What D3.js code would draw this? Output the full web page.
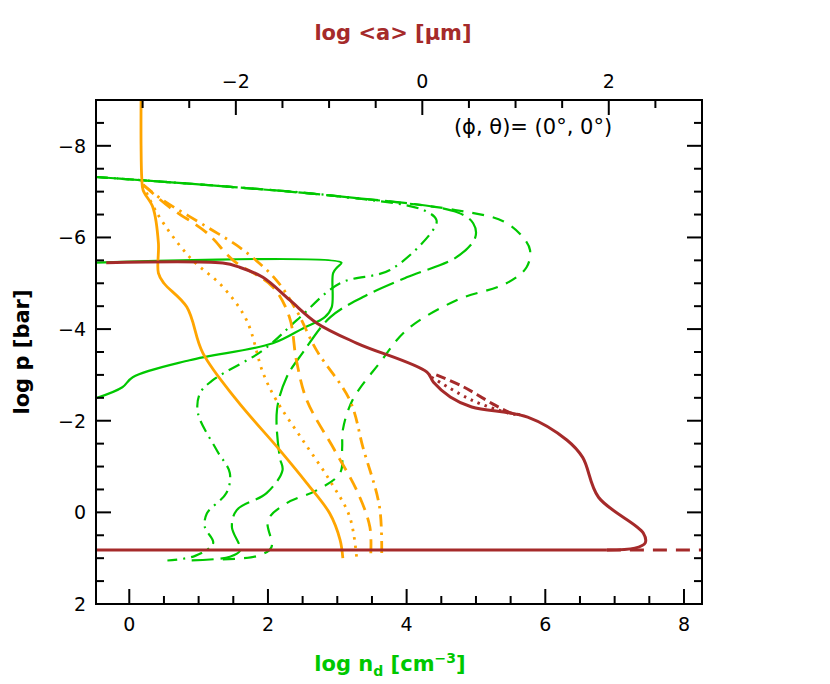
<!DOCTYPE html>
<html><head><meta charset="utf-8">
<script src="https://cdn.jsdelivr.net/npm/d3@7"></script>
<style>body{margin:0;background:#fff}text{font-family:"DejaVu Sans",sans-serif}</style>
</head><body><svg id="c" width="830" height="684"></svg>
<script>
const xTicksBottom=[0,2,4,6,8];
const xTicksTop=[-2,0,2];
const yTicks=[-8,-6,-4,-2,0,2];
// green: log n_d, [x, log p]
const greenSolid=[[-0.48,-5.45],[3.06,-5.45],[3.0,-5.35],[2.94,-5.22],[2.92,-4.48],[2.82,-4.26],[2.51,-4.02],[2.07,-3.69],[0.87,-3.32],[0.05,-2.95],[-0.1,-2.73],[-0.48,-2.49]];
const greenTop=[[-0.48,-7.32],[1.5,-7.1],[3.0,-6.9],[4.2,-6.65]];
const greenLongDash=[[-0.48,-7.32],[1.5,-7.1],[3.0,-6.9],[4.73,-6.55],[4.96,-6.31],[4.99,-6.0],[4.72,-5.57],[4.0,-5.13],[3.37,-4.7],[2.9,-4.26],[2.5,-3.48],[2.27,-2.95],[2.13,-2.23],[2.17,-1.2],[2.21,-0.92],[1.98,-0.42],[1.55,-0.05],[1.48,0.32],[1.6,0.83],[1.45,0.97],[0.9,1.05]];
const greenShortDash=[[-0.48,-7.32],[1.5,-7.1],[3.0,-6.9],[4.7,-6.6],[5.4,-6.35],[5.68,-6.0],[5.78,-5.72],[5.73,-5.35],[5.44,-5.0],[4.72,-4.63],[4.0,-3.98],[3.61,-3.26],[3.22,-2.45],[3.08,-1.8],[3.07,-1.4],[3.04,-0.86],[2.7,-0.48],[2.27,-0.2],[2.0,0.17],[2.05,0.76],[1.85,0.95],[1.3,1.03]];
const greenDashDot=[[-0.48,-7.32],[1.5,-7.1],[3.0,-6.9],[4.24,-6.6],[4.43,-6.38],[4.38,-6.16],[3.76,-5.29],[3.04,-5.0],[2.42,-4.2],[1.93,-3.54],[1.2,-2.88],[1.02,-2.6],[0.99,-2.17],[1.26,-1.36],[1.45,-0.86],[1.4,-0.42],[1.12,0.02],[1.09,0.32],[1.21,0.67],[0.95,0.95],[0.55,1.05]];
// orange: log n_d axis, [x, log p]
const orangeSolid=[[0.17,-9.0],[0.17,-8.0],[0.18,-7.3],[0.2,-7.03],[0.34,-6.66],[0.42,-5.88],[0.42,-5.22],[0.5,-5.0],[0.83,-4.48],[1.06,-3.48],[1.55,-2.45],[2.17,-1.36],[2.56,-0.64],[2.89,0.02],[3.04,0.6],[3.08,1.0]];
const orangeDotted=[[0.2,-7.15],[0.4,-6.53],[0.87,-5.57],[1.35,-4.92],[1.69,-4.2],[1.93,-3.04],[2.12,-2.45],[2.5,-1.58],[2.89,-0.7],[3.18,0.1],[3.28,1.0]];
const orangeDashed=[[0.2,-7.15],[0.58,-6.66],[1.12,-6.1],[1.5,-5.5],[2.07,-4.92],[2.31,-4.26],[2.41,-3.32],[2.56,-2.45],[2.96,-1.36],[3.28,-0.48],[3.47,0.32],[3.48,1.0]];
const orangeDashDot=[[0.2,-7.15],[0.48,-6.82],[1.12,-6.23],[1.64,-5.73],[2.12,-5.07],[2.41,-4.41],[2.7,-3.54],[3.18,-2.45],[3.37,-1.42],[3.61,-0.11],[3.64,1.0]];
// brown: log <a> axis (top), [x, log p]
const brownSolid=[[-3.39,-5.45],[-2.14,-5.44],[-1.96,-5.35],[-1.71,-5.13],[-1.42,-4.63],[-1.13,-4.13],[-0.7,-3.69],[0.05,-3.06],[0.12,-2.84],[0.3,-2.52],[0.53,-2.3],[1.13,-2.08],[1.55,-1.58],[1.72,-1.2],[1.89,-0.33],[2.37,0.45],[2.39,0.67],[2.28,0.78],[1.98,0.82]];
const brownBase=[[-3.5,0.82],[1.98,0.82]];
const brownBaseDash=[[1.98,0.82],[3.0,0.82]];
const brownDotted=[[0.1,-2.95],[0.53,-2.45],[0.92,-2.17],[1.05,-2.12]];
const brownDashed=[[0.15,-3.0],[0.44,-2.74],[0.78,-2.34],[0.95,-2.17],[1.05,-2.13]];

const L=96,R=702,T=100,B=604;
const svg=d3.select("#c");
const x=d3.scaleLinear().domain([-0.48,8.26]).range([L,R]);
const xt=d3.scaleLinear().domain([-3.5,3.0]).range([L,R]);
const y=d3.scaleLinear().domain([-9,2]).range([T,B]);
const GREEN="#00c800",ORANGE="#ffa500",BROWN="#a52a2a";
const clip=svg.append("clipPath").attr("id","cl").append("rect").attr("x",L).attr("y",T).attr("width",R-L).attr("height",B-T);
const g=svg.append("g").attr("clip-path","url(#cl)");
function draw(data,sx,color,w,dash,curve){
  const line=d3.line().x(d=>sx(d[0])).y(d=>y(d[1])).curve(curve||d3.curveCatmullRom.alpha(0.5));
  g.append("path").attr("d",line(data)).attr("fill","none").attr("stroke",color).attr("stroke-width",w).attr("stroke-dasharray",dash||null).attr("stroke-linecap","butt");
}
draw(greenSolid,x,GREEN,2.2,null,d3.curveLinear===undefined?null:d3.curveMonotoneY===0?null:d3.curveCatmullRom.alpha(0.5));
draw(greenLongDash,x,GREEN,2.2,"22,7");
draw(greenShortDash,x,GREEN,2.2,"12,9");
draw(greenDashDot,x,GREEN,2.2,"12,6,2,6");
draw(orangeSolid,x,ORANGE,2.8);
draw(orangeDotted,x,ORANGE,2.8,"2.5,6");
draw(orangeDashed,x,ORANGE,2.8,"14,8");
draw(orangeDashDot,x,ORANGE,2.8,"12,6,2.5,6");
draw(brownDotted,xt,BROWN,3,"2.5,5");
draw(brownDashed,xt,BROWN,3,"10,5");
draw(brownSolid,xt,BROWN,3);
draw(brownBase,xt,BROWN,3,null,d3.curveLinear);
draw(brownBaseDash,xt,BROWN,3,"14,9",d3.curveLinear);

// frame and ticks
svg.append("rect").attr("x",L).attr("y",T).attr("width",R-L).attr("height",B-T).attr("fill","none").attr("stroke","#000").attr("stroke-width",2);
const tk=svg.append("g").attr("stroke","#000").attr("stroke-width",2);
function ticksX(sc,lo,hi,step,maj,yy,dir){
  for(let v=Math.ceil(lo/step)*step;v<=hi+1e-9;v+=step){
    const isMaj=Math.abs(v/maj-Math.round(v/maj))<1e-6;
    const len=isMaj?15:8;
    tk.append("line").attr("x1",sc(v)).attr("x2",sc(v)).attr("y1",yy).attr("y2",yy+dir*len);
  }
}
ticksX(x,-0.48,8.26,0.5,2,B,-1);
ticksX(xt,-3.5,3.0,0.5,2,T,1);
for(let v=-9;v<=2+1e-9;v+=0.5){
  const isMaj=Math.abs(v/2-Math.round(v/2))<1e-6;
  const len=isMaj?15:8;
  tk.append("line").attr("x1",L).attr("x2",L+len).attr("y1",y(v)).attr("y2",y(v));
  tk.append("line").attr("x1",R).attr("x2",R-len).attr("y1",y(v)).attr("y2",y(v));
}
const fmt=v=>v<0?"\u2212"+(-v):String(v);
xTicksBottom.forEach(v=>svg.append("text").attr("x",x(v)).attr("y",B+27).attr("text-anchor","middle").attr("font-size",19).text(fmt(v)));
xTicksTop.forEach(v=>svg.append("text").attr("x",xt(v)).attr("y",T-12).attr("text-anchor","middle").attr("font-size",19).text(fmt(v)));
yTicks.forEach(v=>svg.append("text").attr("x",L-10).attr("y",y(v)+7).attr("text-anchor","end").attr("font-size",19).text(fmt(v)));
svg.append("text").attr("x",533).attr("y",134).attr("text-anchor","middle").attr("font-size",21).text("(\u03d5, \u03b8)= (0\u00b0, 0\u00b0)");
svg.append("text").attr("transform","translate(29,352) rotate(-90)").attr("text-anchor","middle").attr("font-size",21).attr("font-weight","bold").text("log p [bar]");
const bt=svg.append("text").attr("x",390).attr("y",671).attr("text-anchor","middle").attr("font-size",21).attr("font-weight","bold").attr("fill",GREEN);
bt.append("tspan").text("log n");
bt.append("tspan").attr("font-size",14).attr("dy",5).text("d");
bt.append("tspan").attr("dy",-5).text(" [cm");
bt.append("tspan").attr("font-size",14).attr("dy",-8).text("\u22123");
bt.append("tspan").attr("dy",8).text("]");
svg.append("text").attr("x",393).attr("y",40).attr("text-anchor","middle").attr("font-size",21).attr("font-weight","bold").attr("fill",BROWN).text("log <a> [\u03bcm]");
</script></body></html>
